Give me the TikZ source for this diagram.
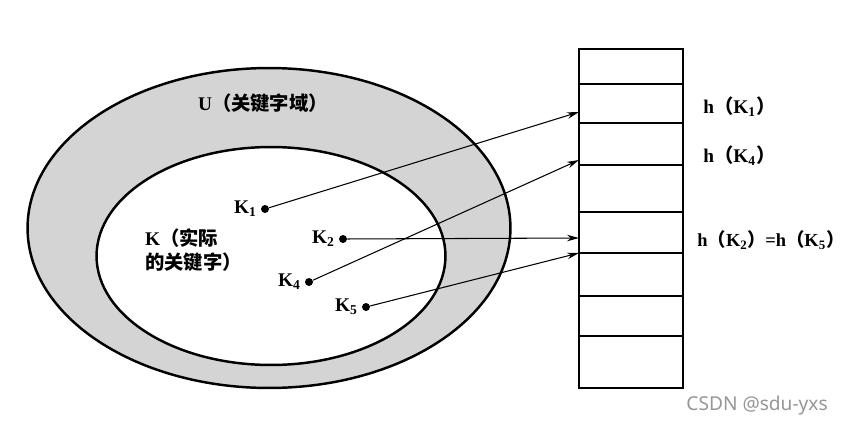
\documentclass[tikz,border=0pt]{standalone}
\usepackage{fontspec}
\setmainfont{Liberation Serif}
\newfontfamily\cjk{Noto Sans CJK SC}
\newfontfamily\markfont{Noto Sans}
\usetikzlibrary{arrows.meta,positioning,shapes.geometric}
\definecolor{domaingray}{RGB}{212,212,212}
\definecolor{markgray}{RGB}{150,150,150}
\tikzset{
  ring/.style={ellipse, draw=black, line width=1.4pt, inner sep=0pt},
  keydot/.style={circle, fill=black, inner sep=0pt, minimum size=1.6mm},
  keylabel/.style={font=\fontsize{11}{12}\selectfont\bfseries, inner sep=1pt},
  hashlabel/.style={font=\fontsize{11}{12}\selectfont\bfseries, anchor=west, inner sep=0pt},
  arrow/.style={-{Stealth[length=2.4mm, width=1.3mm]}, line width=0.6pt},
  slot/.style={draw=black, line width=0.9pt},
}
\newcommand{\hashof}[1]{h{\cjk（}K\textsubscript{#1}\makebox[0.55em][l]{\cjk）}}

\begin{document}
\begin{tikzpicture}[x=0.02cm, y=-0.02cm]
\useasboundingbox (0,0) rectangle (849,426);

% key domain and actual keys
\node[ring, fill=domaingray, minimum width=9.66cm, minimum height=6.4cm] (domain) at (269,228) {};
\node[ring, fill=white, minimum width=6.98cm, minimum height=4.36cm] (actual) at (271,256) {};
\node[font=\fontsize{11}{12}\selectfont\bfseries] (domainname) at (263,103) {U{\cjk（关键字域）}};
\node[font=\fontsize{11}{14}\selectfont\bfseries, align=left, anchor=west] (actualname) at (139,250) {K{\cjk（实际}\\{\cjk 的关键字）}};

% keys
\node[keydot] (k1) at (265,209) {};
\node[keydot] (k2) at (343,239) {};
\node[keydot] (k4) at (309,282) {};
\node[keydot] (k5) at (366,307) {};
\node[keylabel, left=1pt of k1] (k1name) {K\textsubscript{1}};
\node[keylabel, left=1pt of k2] (k2name) {K\textsubscript{2}};
\node[keylabel, left=1pt of k4] (k4name) {K\textsubscript{4}};
\node[keylabel, left=1pt of k5] (k5name) {K\textsubscript{5}};

% hash table
\foreach \top/\bot in {49/84, 84/123, 123/165, 165/212, 212/253, 253/296, 296/336, 336/388}
  \draw[slot] (579,\top) rectangle (683,\bot);
\coordinate (h1) at (579,112);
\coordinate (h4) at (579,160);
\coordinate (h2) at (579,238);
\coordinate (h5) at (579,253);

\node[hashlabel] (h1name) at (703,107) {\hashof{1}};
\node[hashlabel] (h4name) at (703,156) {\hashof{4}};
\node[hashlabel, font=\fontsize{10.5}{12}\selectfont\bfseries] (h25name) at (697,240) {\hashof{2}\hspace{0.4em}=\hashof{5}};

\draw[arrow] (k1) -- (h1);
\draw[arrow] (k4) -- (h4);
\draw[arrow] (k2) -- (h2);
\draw[arrow] (k5) -- (h5);

\node[font=\fontsize{10.9}{13}\selectfont\markfont, text=markgray, anchor=east] (mark) at (834,406) {CSDN @sdu-yxs};
\end{tikzpicture}
\end{document}
